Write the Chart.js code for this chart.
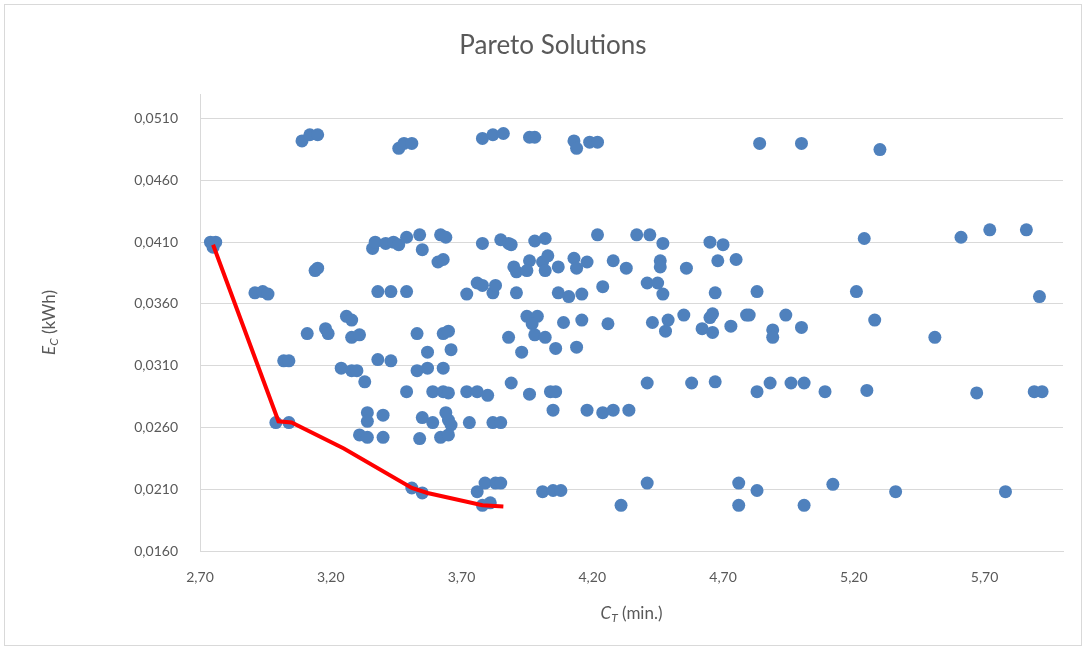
<!DOCTYPE html>
<html>
<head>
<meta charset="utf-8">
<script src="https://cdn.jsdelivr.net/npm/chart.js@4.4.0/dist/chart.umd.min.js"></script>
<style>
  html, body { margin: 0; padding: 0; background: #fff; }
  #frame {
    position: absolute; left: 4px; top: 4px; width: 1078px; height: 642px;
    border: 1px solid #d9d9d9; box-sizing: border-box;
  }
  #chart { position: absolute; left: 0; top: 0; }
</style>
</head>
<body>
<div id="frame"></div>
<canvas id="chart" width="1090" height="654"></canvas>
<script>
const titleText = 'Pareto Solutions';
const xTicks = [2.7, 3.2, 3.7, 4.2, 4.7, 5.2, 5.7];
const yTicks = [0.016, 0.021, 0.026, 0.031, 0.036, 0.041, 0.046, 0.051];

// all solutions (C_T in min., E_C in kWh)
const solutionsCT = [
  3.09, 3.12, 3.15, 3.46, 3.48, 3.51, 3.78, 3.82, 3.86, 3.96, 3.98, 4.13, 4.14, 4.19, 4.22, 4.84, 5.00, 5.30,
  2.74, 2.76, 2.75, 3.14, 3.15, 2.91, 2.94, 2.96,
  3.36, 3.37, 3.41, 3.44, 3.46, 3.49, 3.54, 3.55, 3.62, 3.64, 3.61, 3.63, 3.78,
  3.85, 3.88, 3.89, 3.98, 4.02, 4.22, 4.37, 4.42, 4.47, 4.65, 4.70, 5.24, 5.61, 5.72, 5.86,
  3.38, 3.43, 3.49, 3.72, 3.76, 3.78, 3.82, 3.83,
  3.90, 3.91, 3.96, 3.95, 4.01, 4.03, 4.02, 4.07, 4.13, 4.14, 4.18, 4.28, 4.33, 4.46, 4.46, 4.56, 4.68, 4.75,
  3.91, 4.07, 4.11, 4.16, 4.24, 4.41, 4.45, 4.47, 4.67, 4.83, 5.21, 5.91,
  3.26, 3.28, 3.95, 3.99, 3.97, 4.09, 4.16, 4.26, 4.43, 4.49, 4.55, 4.65, 4.66, 4.73, 4.79, 4.80, 4.94, 5.28,
  3.11, 3.18, 3.19, 3.28, 3.31, 3.53, 3.57, 3.63, 3.65, 3.66,
  3.88, 3.93, 3.98, 4.02, 4.06, 4.14, 4.48, 4.62, 4.66, 4.89, 4.89, 5.00, 5.51,
  3.02, 3.04, 3.24, 3.28, 3.30, 3.33, 3.38, 3.43, 3.53, 3.57, 3.63,
  3.49, 3.59, 3.63, 3.65, 3.72, 3.76, 3.80, 3.89, 3.96, 4.04, 4.06,
  4.41, 4.58, 4.67, 4.83, 4.88, 4.96, 5.01, 5.09, 5.25, 5.67, 5.89, 5.92,
  3.34, 3.34, 3.40, 3.55, 3.59, 3.64, 3.65, 3.66, 4.05, 4.18, 4.24, 4.28, 4.34,
  3.31, 3.34, 3.40, 3.54, 3.62, 3.65, 2.99, 3.04, 3.73, 3.82, 3.85,
  3.51, 3.55, 3.76, 3.79, 3.83, 3.85, 3.78, 3.81, 4.01, 4.05, 4.08, 4.31, 4.41,
  4.76, 4.83, 4.76, 5.01, 5.12, 5.36, 5.78
];
const solutionsEC = [
  0.0492, 0.0497, 0.0497, 0.0486, 0.0490, 0.0490, 0.0494, 0.0497, 0.0498, 0.0495, 0.0495, 0.0492, 0.0486, 0.0491, 0.0491, 0.0490, 0.0490, 0.0485,
  0.0410, 0.0410, 0.0406, 0.0387, 0.0389, 0.0369, 0.0370, 0.0368,
  0.0405, 0.0410, 0.0409, 0.0410, 0.0408, 0.0414, 0.0416, 0.0404, 0.0416, 0.0414, 0.0394, 0.0396, 0.0409,
  0.0412, 0.0409, 0.0408, 0.0411, 0.0413, 0.0416, 0.0416, 0.0416, 0.0409, 0.0410, 0.0408, 0.0413, 0.0414, 0.0420, 0.0420,
  0.0370, 0.0370, 0.0370, 0.0368, 0.0377, 0.0375, 0.0369, 0.0375,
  0.0390, 0.0386, 0.0395, 0.0387, 0.0394, 0.0399, 0.0387, 0.0390, 0.0397, 0.0389, 0.0394, 0.0395, 0.0389, 0.0395, 0.0390, 0.0389, 0.0395, 0.0396,
  0.0369, 0.0369, 0.0366, 0.0368, 0.0374, 0.0377, 0.0377, 0.0368, 0.0369, 0.0370, 0.0370, 0.0366,
  0.0350, 0.0347, 0.0350, 0.0350, 0.0344, 0.0345, 0.0347, 0.0344, 0.0345, 0.0347, 0.0351, 0.0349, 0.0352, 0.0342, 0.0351, 0.0351, 0.0351, 0.0347,
  0.0336, 0.0340, 0.0336, 0.0333, 0.0335, 0.0336, 0.0321, 0.0336, 0.0338, 0.0323,
  0.0333, 0.0321, 0.0335, 0.0333, 0.0324, 0.0325, 0.0338, 0.0340, 0.0337, 0.0339, 0.0333, 0.0341, 0.0333,
  0.0314, 0.0314, 0.0308, 0.0306, 0.0306, 0.0297, 0.0315, 0.0314, 0.0306, 0.0308, 0.0308,
  0.0289, 0.0289, 0.0289, 0.0288, 0.0289, 0.0289, 0.0286, 0.0296, 0.0287, 0.0289, 0.0289,
  0.0296, 0.0296, 0.0297, 0.0289, 0.0296, 0.0296, 0.0296, 0.0289, 0.0290, 0.0288, 0.0289, 0.0289,
  0.0272, 0.0265, 0.0270, 0.0268, 0.0264, 0.0272, 0.0266, 0.0262, 0.0274, 0.0274, 0.0272, 0.0274, 0.0274,
  0.0254, 0.0252, 0.0252, 0.0251, 0.0252, 0.0254, 0.0264, 0.0264, 0.0264, 0.0264, 0.0264,
  0.0211, 0.0207, 0.0208, 0.0215, 0.0215, 0.0215, 0.0197, 0.0199, 0.0208, 0.0209, 0.0209, 0.0197, 0.0215,
  0.0215, 0.0209, 0.0197, 0.0197, 0.0214, 0.0208, 0.0208
];

// pareto front
const paretoCT = [2.75, 3.00, 3.05, 3.25, 3.51, 3.57, 3.78, 3.86];
const paretoEC = [0.0408, 0.0265, 0.0264, 0.0243, 0.0211, 0.0207, 0.0197, 0.0196];

const textColor = '#595959';
const fontFamily = 'Lato, "Open Sans", sans-serif';

function drawRich(ctx, parts, size) {
  // parts: [text, italic, subscript]
  let w = 0;
  const widths = parts.map(p => {
    const s = p[2] ? size * 0.7 : size;
    ctx.font = (p[1] ? 'italic ' : '') + s + 'px ' + fontFamily;
    const m = ctx.measureText(p[0]).width;
    w += m;
    return m;
  });
  let x = -w / 2;
  parts.forEach((p, i) => {
    const s = p[2] ? size * 0.7 : size;
    ctx.font = (p[1] ? 'italic ' : '') + s + 'px ' + fontFamily;
    ctx.fillText(p[0], x, p[2] ? size * 0.22 : 0);
    x += widths[i];
  });
}

const labelsPlugin = {
  id: 'labels',
  afterDraw(chart) {
    const ctx = chart.ctx;
    const area = chart.chartArea;
    ctx.save();
    ctx.fillStyle = textColor;
    ctx.textBaseline = 'middle';
    ctx.textAlign = 'left';

    ctx.font = '26px ' + fontFamily;
    const tw = ctx.measureText(titleText).width;
    ctx.fillText(titleText, 553 - tw / 2, 46);

    ctx.save();
    ctx.translate((area.left + area.right) / 2, 614);
    drawRich(ctx, [['C', true, false], ['T', true, true], [' (min.)', false, false]], 17);
    ctx.restore();

    ctx.save();
    ctx.translate(50, (area.top + area.bottom) / 2);
    ctx.rotate(-Math.PI / 2);
    drawRich(ctx, [['E', true, false], ['C', true, true], [' (kWh)', false, false]], 17);
    ctx.restore();

    ctx.restore();
  }
};

new Chart(document.getElementById('chart'), {
  type: 'scatter',
  data: {
    datasets: [
      {
        type: 'line',
        label: 'Pareto front',
        data: paretoCT.map((x, i) => ({ x: x, y: paretoEC[i] })),
        borderColor: '#ff0000',
        borderWidth: 4,
        pointRadius: 0,
        fill: false,
        tension: 0
      },
      {
        label: 'Solutions',
        data: solutionsCT.map((x, i) => ({ x: x, y: solutionsEC[i] })),
        backgroundColor: '#4f81bd',
        borderColor: '#4f81bd',
        borderWidth: 0,
        pointRadius: 6.5
      }
    ]
  },
  options: {
    responsive: false,
    animation: false,
    layout: { padding: { left: 0, right: 27, top: 94, bottom: 0 } },
    plugins: {
      legend: { display: false },
      tooltip: { enabled: false },
      title: { display: false }
    },
    scales: {
      x: {
        type: 'linear',
        min: 2.7,
        max: 6.0,
        afterBuildTicks: scale => { scale.ticks = xTicks.map(v => ({ value: v })); },
        afterFit: scale => { scale.height = 103; },
        grid: { display: false, drawTicks: false },
        border: { display: true, color: '#d9d9d9', width: 1 },
        ticks: {
          autoSkip: false,
          maxRotation: 0,
          padding: 18,
          color: textColor,
          font: { family: fontFamily, size: 14 },
          callback: v => v.toFixed(2).replace('.', ',')
        }
      },
      y: {
        type: 'linear',
        min: 0.016,
        max: 0.053,
        afterBuildTicks: scale => { scale.ticks = yTicks.map(v => ({ value: v })); },
        afterFit: scale => { scale.width = 200; },
        grid: { display: true, color: '#d9d9d9', lineWidth: 1, drawTicks: false },
        border: { display: true, color: '#d9d9d9', width: 1 },
        ticks: {
          padding: 22,
          color: textColor,
          font: { family: fontFamily, size: 14 },
          callback: v => v.toFixed(4).replace('.', ',')
        }
      }
    }
  },
  plugins: [labelsPlugin]
});
</script>
</body>
</html>
